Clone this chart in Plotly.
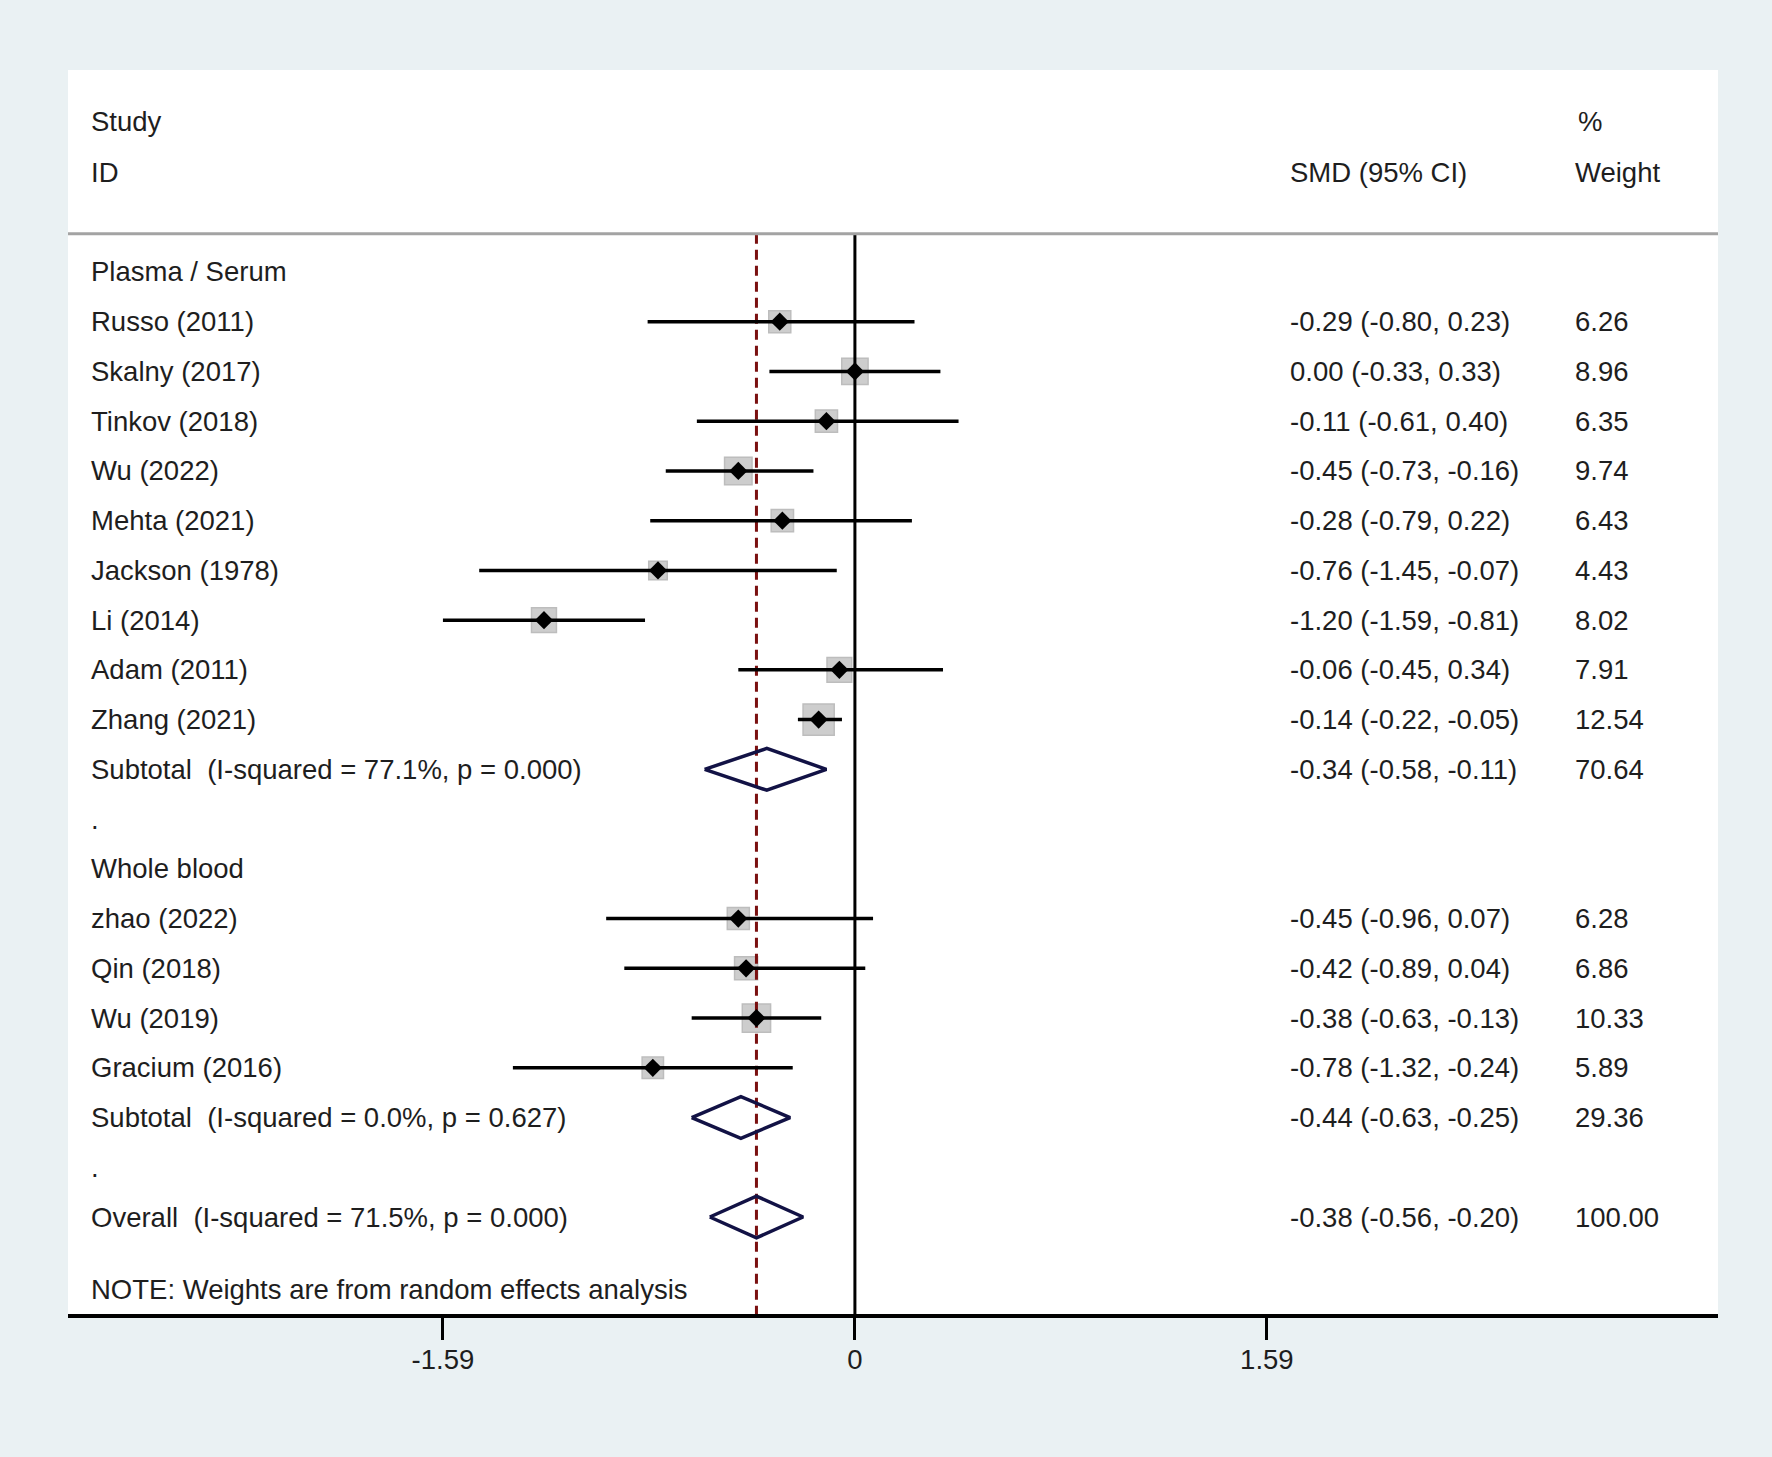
"""
Forest plot of SMD by sample type (plasma / serum vs whole blood),
drawn the Stata metan way with plotly.
"""

import plotly.graph_objects as go


# study level data
studies = ["Russo (2011)", "Skalny (2017)", "Tinkov (2018)", "Wu (2022)",
           "Mehta (2021)", "Jackson (1978)", "Li (2014)", "Adam (2011)",
           "Zhang (2021)", "zhao (2022)", "Qin (2018)", "Wu (2019)",
           "Gracium (2016)"]
smd = [-0.29, 0.00, -0.11, -0.45, -0.28, -0.76, -1.20, -0.06, -0.14,
       -0.45, -0.42, -0.38, -0.78]
lower = [-0.80, -0.33, -0.61, -0.73, -0.79, -1.45, -1.59, -0.45, -0.22,
         -0.96, -0.89, -0.63, -1.32]
upper = [0.23, 0.33, 0.40, -0.16, 0.22, -0.07, -0.81, 0.34, -0.05,
         0.07, 0.04, -0.13, -0.24]
weight = [6.26, 8.96, 6.35, 9.74, 6.43, 4.43, 8.02, 7.91, 12.54,
          6.28, 6.86, 10.33, 5.89]
study_rows = [1, 2, 3, 4, 5, 6, 7, 8, 9, 13, 14, 15, 16]

# pooled estimates (two subtotals and the overall)
pooled_labels = ["Subtotal  (I-squared = 77.1%, p = 0.000)",
                 "Subtotal  (I-squared = 0.0%, p = 0.627)",
                 "Overall  (I-squared = 71.5%, p = 0.000)"]
pooled_smd = [-0.34, -0.44, -0.38]
pooled_lower = [-0.58, -0.63, -0.56]
pooled_upper = [-0.11, -0.25, -0.20]
pooled_weight = [70.64, 29.36, 100.00]
pooled_rows = [10, 17, 19]

# group headings and spacer dots
group_labels = ["Plasma / Serum", ".", "Whole blood", "."]
group_rows = [0, 11, 12, 18]

tick_vals = [-1.59, 0, 1.59]
tick_text = ["-1.59", "0", "1.59"]

FONT = "Liberation Sans, Arial, sans-serif"
TXT = "#1e1e1e"
FS = 27.5
X_RANGE = [-3.037, 3.331]
Y_RANGE = [20.95, -4.06]
SEP_ROW = -0.77
X_LABEL = -2.956
X_SMD = 1.671
X_WT = 2.771

fig = go.Figure()

# weight boxes
fig.add_trace(go.Scatter(x=smd, y=study_rows, mode="markers",
                         marker=dict(symbol="square", color="#b9b9b9",
                                     size=[8.8 * w ** 0.5 for w in weight],
                                     line=dict(width=1.5, color="#a2a2a2")),
                         hoverinfo="skip"))

# reference lines: null effect and overall estimate
fig.add_trace(go.Scatter(x=[0, 0], y=[SEP_ROW, Y_RANGE[0]], mode="lines",
                         line=dict(color="black", width=3),
                         hoverinfo="skip"))
fig.add_trace(go.Scatter(x=[pooled_smd[2]] * 2, y=[SEP_ROW, Y_RANGE[0]],
                         mode="lines",
                         line=dict(color="#7a1010", width=3,
                                   dash="10px,6px"),
                         hoverinfo="skip"))

# confidence intervals
for lo, hi, r in zip(lower, upper, study_rows):
    fig.add_trace(go.Scatter(x=[lo, hi], y=[r, r], mode="lines",
                             line=dict(color="black", width=3.5),
                             hoverinfo="skip"))

# point estimates
fig.add_trace(go.Scatter(x=smd, y=study_rows, mode="markers",
                         marker=dict(symbol="diamond", color="black",
                                     size=14),
                         hoverinfo="skip"))

# pooled diamonds
for est, lo, hi, r in zip(pooled_smd, pooled_lower, pooled_upper,
                          pooled_rows):
    fig.add_trace(go.Scatter(x=[lo, est, hi, est, lo],
                             y=[r, r - 0.42, r, r + 0.42, r],
                             mode="lines",
                             line=dict(color="#121245", width=3.5),
                             hoverinfo="skip"))


def add_text(x, y, text):
    fig.add_annotation(x=x, y=y, xref="x", yref="y", text=text,
                       showarrow=False, xanchor="left", yanchor="middle",
                       font=dict(family=FONT, size=FS, color=TXT))


# header
add_text(X_LABEL, -3.02, "Study")
add_text(X_LABEL, -1.99, "ID")
add_text(X_SMD, -1.99, "SMD (95% CI)")
add_text(X_WT + 0.012, -3.02, "%")
add_text(X_WT, -1.99, "Weight")

for lab, r in zip(group_labels, group_rows):
    add_text(X_LABEL, r, lab)

for i, name in enumerate(studies):
    r = study_rows[i]
    add_text(X_LABEL, r, name)
    add_text(X_SMD, r, f"{smd[i]:.2f} ({lower[i]:.2f}, {upper[i]:.2f})")
    add_text(X_WT, r, f"{weight[i]:.2f}")

for i, lab in enumerate(pooled_labels):
    r = pooled_rows[i]
    add_text(X_LABEL, r, lab)
    add_text(X_SMD, r, f"{pooled_smd[i]:.2f} ({pooled_lower[i]:.2f}, "
                       f"{pooled_upper[i]:.2f})")
    add_text(X_WT, r, f"{pooled_weight[i]:.2f}")

add_text(X_LABEL, 20.45, "NOTE: Weights are from random effects analysis")

# header rule
fig.add_shape(type="line", xref="paper", yref="y", x0=0, x1=1,
              y0=SEP_ROW, y1=SEP_ROW, line=dict(color="#a3a3a3", width=3))

fig.update_layout(
    width=1772, height=1457,
    margin=dict(l=68, r=54, t=70, b=143),
    paper_bgcolor="#eaf1f3",
    plot_bgcolor="white",
    showlegend=False,
    font=dict(family=FONT, size=FS, color=TXT),
)
fig.update_xaxes(range=X_RANGE, showgrid=False, zeroline=False,
                 showline=True, linecolor="black", linewidth=4,
                 ticks="outside", ticklen=22, tickwidth=2.5,
                 tickcolor="black", tickvals=tick_vals, ticktext=tick_text,
                 ticklabelstandoff=-4,
                 tickfont=dict(family=FONT, size=FS, color=TXT))
fig.update_yaxes(range=Y_RANGE, showgrid=False, zeroline=False,
                 showticklabels=False, showline=False)

# page body margin would push the figure off by 8px
fig.write_html("out.html", config={"displayModeBar": False},
               post_script="document.body.style.margin = '0px';")
